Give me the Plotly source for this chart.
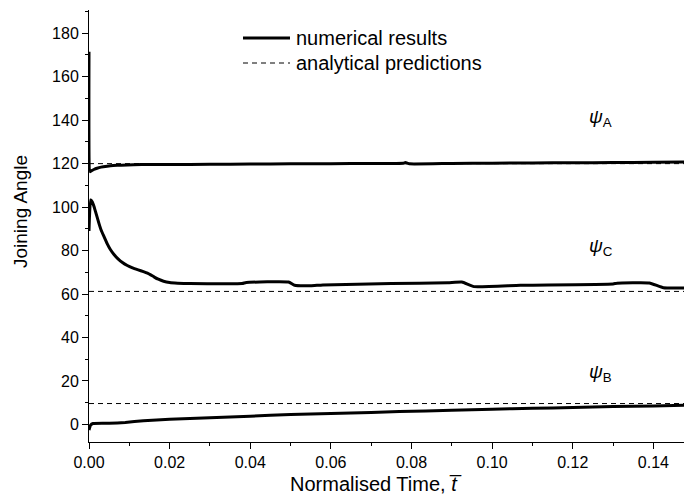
import plotly.graph_objects as go

# ---- data ----
t_A = [0.0, 0.0003, 0.0007, 0.0012, 0.002, 0.003, 0.0045, 0.006, 0.008, 0.011, 0.015, 0.02,
       0.03, 0.04, 0.05, 0.06, 0.07, 0.078, 0.0785, 0.0795, 0.09, 0.10, 0.11, 0.12, 0.13,
       0.14, 0.148]
psi_A = [171.5, 116.3, 116.8, 117.3, 117.9, 118.4, 118.8, 119.1, 119.3, 119.5, 119.6, 119.6,
         119.7, 119.8, 119.9, 120.0, 120.1, 120.2, 120.5, 119.9, 120.1, 120.2, 120.3, 120.4, 120.5,
         120.6, 120.7]

t_C = [0.0, 0.0004, 0.0008, 0.0012, 0.0016, 0.002, 0.0025, 0.003, 0.0037, 0.0045, 0.0053,
       0.0062, 0.0072, 0.0083, 0.0095, 0.0108, 0.0122, 0.0135, 0.0145, 0.0153, 0.0162, 0.0172,
       0.0185, 0.02, 0.022, 0.025, 0.038, 0.039, 0.0495, 0.051, 0.055, 0.058, 0.075, 0.089,
       0.0925, 0.0955, 0.107, 0.130, 0.131, 0.139, 0.1425, 0.148]
psi_C = [89.0, 103.3, 102.5, 100.5, 98.0, 95.5, 92.3, 89.5, 86.5, 83.2, 80.5,
         78.2, 76.2, 74.5, 73.1, 72.0, 71.1, 70.3, 69.6, 68.8, 67.8, 66.8,
         65.9, 65.3, 65.0, 64.8, 64.8, 65.3, 65.5, 64.0, 63.8, 64.2, 64.8, 65.2,
         65.5, 63.4, 64.0, 64.6, 65.0, 65.1, 62.9, 62.8]

t_B = [0.0, 0.0004, 0.001, 0.005, 0.009, 0.0135, 0.02, 0.03, 0.04, 0.05, 0.06, 0.07, 0.077,
       0.09, 0.10, 0.11, 0.12, 0.13, 0.14, 0.148]
psi_B = [-2.6, -0.3, 0.4, 0.5, 0.9, 1.7, 2.4, 3.1, 3.8, 4.5, 5.0, 5.5, 5.9,
         6.5, 7.0, 7.4, 7.8, 8.2, 8.5, 8.8]

t_span = [0.0, 0.148]
analytical = {"A": 120.0, "C": 61.2, "B": 9.6}

labels = {"A": 141.0, "C": 81.5, "B": 23.7}
label_t = 0.127

x_ticks = [0.00, 0.02, 0.04, 0.06, 0.08, 0.10, 0.12, 0.14]
y_ticks = [0, 20, 40, 60, 80, 100, 120, 140, 160, 180]

FONT = "Liberation Sans, Arial, sans-serif"

fig = go.Figure()

# analytical predictions (dashed)
for k, v in analytical.items():
    fig.add_trace(go.Scatter(x=t_span, y=[v, v], mode="lines",
                             line=dict(color="black", width=1, dash="5px,4px"),
                             showlegend=False, hoverinfo="skip"))

# numerical results (solid)
for tt, yy in [(t_A, psi_A), (t_C, psi_C), (t_B, psi_B)]:
    fig.add_trace(go.Scatter(x=tt, y=yy, mode="lines",
                             line=dict(color="black", width=3, shape="spline", smoothing=0.4),
                             showlegend=False))

# psi labels
for k, v in labels.items():
    fig.add_annotation(x=label_t, y=v, xref="x", yref="y", showarrow=False,
                       text=f"<i>ψ</i><sub>{k}</sub>",
                       font=dict(family=FONT, size=19, color="black"))

# manual legend
L, R, T, B = 89, 684, 10, 442
W, H = R - L, B - T
def px(x):
    return (x - L) / W
def py(y):
    return (B - y) / H

fig.add_shape(type="line", xref="paper", yref="paper",
              x0=px(243), x1=px(290), y0=py(38), y1=py(38),
              line=dict(color="black", width=3))
fig.add_shape(type="line", xref="paper", yref="paper",
              x0=px(243), x1=px(290), y0=py(63), y1=py(63),
              line=dict(color="black", width=1, dash="5px,4px"))
fig.add_annotation(x=px(294), y=py(38), xref="paper", yref="paper", showarrow=False,
                   xanchor="left", yanchor="middle", text="numerical results",
                   font=dict(family=FONT, size=20, color="black"))
fig.add_annotation(x=px(294), y=py(63), xref="paper", yref="paper", showarrow=False,
                   xanchor="left", yanchor="middle", text="analytical predictions",
                   font=dict(family=FONT, size=20, color="black"))

# axis titles
fig.add_annotation(x=px(375), y=py(484), xref="paper", yref="paper", showarrow=False,
                   xanchor="center", yanchor="middle",
                   text="Normalised Time, <i>t\u0305</i>",
                   font=dict(family=FONT, size=20, color="black"))
fig.add_annotation(x=px(20), y=py(212), xref="paper", yref="paper", showarrow=False,
                   xanchor="center", yanchor="middle", textangle=-90,
                   text="Joining Angle",
                   font=dict(family=FONT, size=19, color="black"))

fig.update_layout(
    width=684, height=498,
    margin=dict(l=L, r=684 - R, t=T, b=498 - B, autoexpand=False),
    paper_bgcolor="white", plot_bgcolor="white",
    font=dict(family=FONT, size=16, color="black"),
    showlegend=False,
)
fig.update_xaxes(range=[0, 0.1476], tickvals=x_ticks,
                 ticktext=[f"{v:.2f}" for v in x_ticks],
                 showline=True, linecolor="black", linewidth=1,
                 ticks="outside", ticklen=6, tickwidth=1, tickcolor="black",
                 minor=dict(ticks="outside", ticklen=3, dtick=0.01, tick0=0, tickcolor="black"),
                 showgrid=False, zeroline=False,
                 tickfont=dict(family=FONT, size=16, color="black"))
fig.update_yaxes(range=[-8.1, 190.7], tickvals=y_ticks,
                 showline=True, linecolor="black", linewidth=1,
                 ticks="outside", ticklen=6, tickwidth=1, tickcolor="black",
                 minor=dict(ticks="outside", ticklen=3, dtick=10, tick0=0, tickcolor="black"),
                 showgrid=False, zeroline=False,
                 tickfont=dict(family=FONT, size=16, color="black"))

fig.write_html("out.html")
